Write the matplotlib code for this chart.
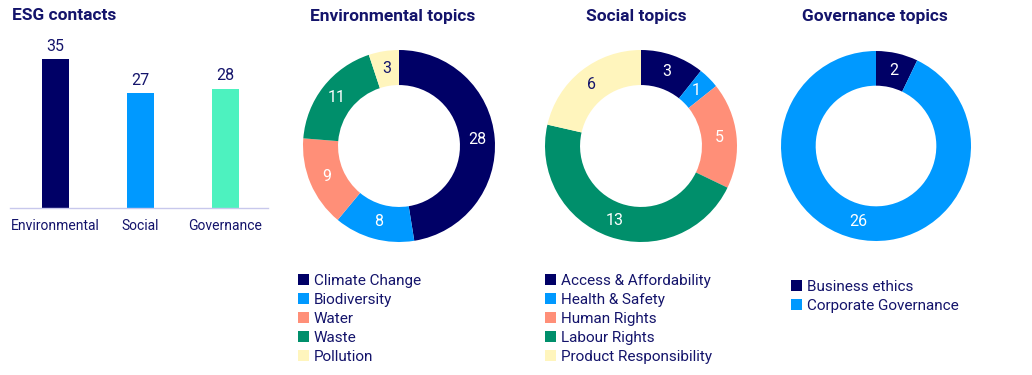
import matplotlib
matplotlib.use("Agg")
import matplotlib.pyplot as plt
from matplotlib.patches import Patch
import numpy as np

plt.rcParams['font.family'] = ['Roboto', 'DejaVu Sans']

NAVY = "#000066"
BLUE = "#0099ff"
SALMON = "#ff8f78"
GREEN = "#008f6b"
YELLOW = "#fff5bd"
MINT = "#4df2bf"
TEXT = "#14146b"

# bar chart data
esg_cats = ["Environmental", "Social", "Governance"]
esg_vals = [35, 27, 28]
esg_colors = [NAVY, BLUE, MINT]

# donut data
env_labels = ["Climate Change", "Biodiversity", "Water", "Waste", "Pollution"]
env_vals = [28, 8, 9, 11, 3]
soc_labels = ["Access & Affordability", "Health & Safety", "Human Rights",
              "Labour Rights", "Product Responsibility"]
soc_vals = [3, 1, 5, 13, 6]
gov_labels = ["Business ethics", "Corporate Governance"]
gov_vals = [2, 26]

five_colors = [NAVY, BLUE, SALMON, GREEN, YELLOW]
two_colors = [NAVY, BLUE]

W, H = 1032, 375
fig = plt.figure(figsize=(W / 100, H / 100), dpi=100)


def px_axes(left, top, width, height):
    return fig.add_axes([left / W, 1 - (top + height) / H, width / W, height / H])


# ---- bar chart
ax = px_axes(10, 40, 258, 168)
ax.bar(range(3), esg_vals, width=0.32, color=esg_colors)
for i, v in enumerate(esg_vals):
    ax.text(i, v + 1.2, str(v), ha="center", va="bottom", fontsize=11.5, color=TEXT)
ax.set_xlim(-0.53, 2.5)
ax.set_ylim(0, 39.4)
ax.set_xticks(range(3))
ax.set_xticklabels(esg_cats, fontsize=10, color=TEXT)
ax.tick_params(axis="x", length=0, pad=8)
ax.set_yticks([])
for s in ["top", "right", "left"]:
    ax.spines[s].set_visible(False)
ax.spines["bottom"].set_color("#c8c8ec")
ax.spines["bottom"].set_linewidth(1)
fig.text(12 / W, 1 - 16 / H, "ESG contacts", fontsize=12.5, fontweight="bold",
         color=TEXT, va="center", ha="left")


def donut(cx, cy, r, vals, colors, title, title_x, labels, leg_x, leg_y):
    a = px_axes(cx - r, cy - r, 2 * r, 2 * r)
    a.pie(vals, colors=colors, startangle=90, counterclock=False,
          radius=1, wedgeprops=dict(width=0.365, linewidth=0))
    total = sum(vals)
    start = 90
    for v, c in zip(vals, colors):
        ang = np.deg2rad(start - 360 * v / total / 2)
        start -= 360 * v / total
        tc = TEXT if c == YELLOW else "white"
        a.text(0.82 * np.cos(ang), 0.82 * np.sin(ang), str(v), ha="center",
               va="center", fontsize=11.5, color=tc)
    a.set_xlim(-1, 1)
    a.set_ylim(-1, 1)
    a.set_aspect("equal")
    fig.text(title_x / W, 1 - 16 / H, title, fontsize=12.5, fontweight="bold",
             color=TEXT, va="center", ha="center")
    handles = [Patch(facecolor=c, edgecolor="none") for c in colors]
    fig.legend(handles, labels, loc="upper left",
               bbox_to_anchor=(leg_x / W, 1 - leg_y / H), frameon=False,
               fontsize=11, labelcolor=TEXT, handlelength=0.7,
               handleheight=0.7, handletextpad=0.35, labelspacing=0.32,
               borderpad=0, borderaxespad=0)


donut(399, 146, 96, env_vals, five_colors, "Environmental topics", 393,
      env_labels, 298, 274)
donut(641, 146, 96, soc_vals, five_colors, "Social topics", 636,
      soc_labels, 545, 274)
donut(876, 146, 95, gov_vals, two_colors, "Governance topics", 875,
      gov_labels, 791, 280)

fig.savefig("out.png", dpi=100, facecolor="white")
